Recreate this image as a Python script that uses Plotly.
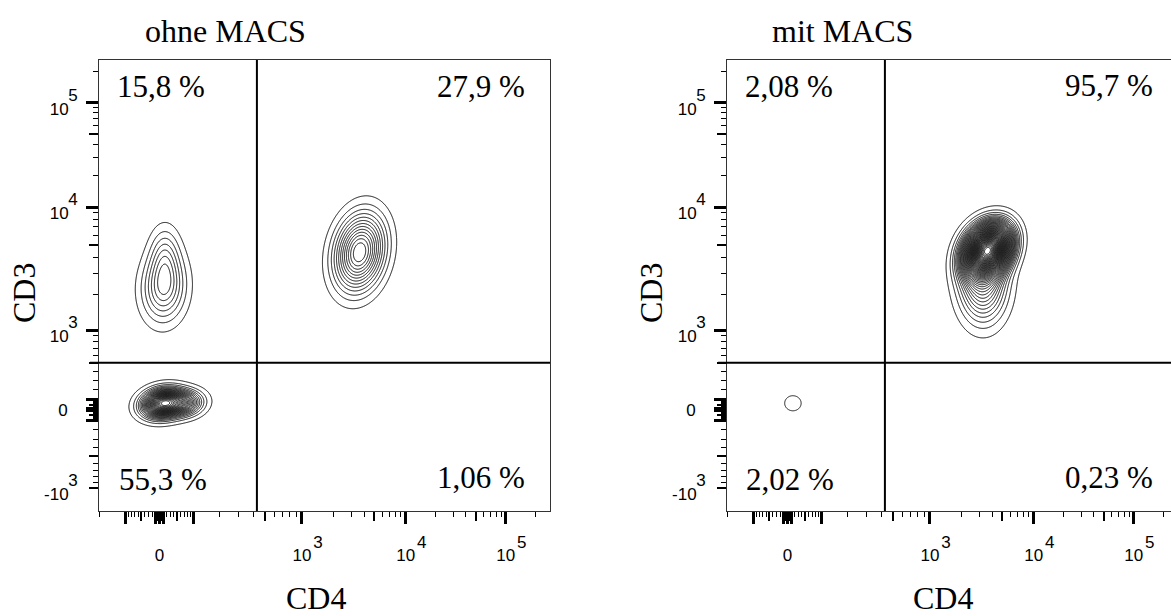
import numpy as np
import plotly.graph_objects as go

# ---------------- text ----------------
panel_titles = ["ohne MACS", "mit MACS"]
x_title = "CD4"
y_title = "CD3"
# quadrant percentages: upper-left, upper-right, lower-left, lower-right
quad_text_left = ["15,8 %", "27,9 %", "55,3 %", "1,06 %"]
quad_text_right = ["2,08 %", "95,7 %", "2,02 %", "0,23 %"]

# ---------------- gate (fluorescence units) ----------------
gate_cd4 = 430.0
gate_cd3 = 500.0

# ---------------- populations ----------------
# share of all events (%) of each visible population
pop_share_left = [15.8, 27.9, 55.3]
pop_share_right = [95.7, 2.02]

# components of each population: centre (fluorescence), spread (display channels), correlation, weight
comp_pop_left = [0, 0, 1, 2, 2]
comp_cd4_left = [12, 15, 3600, 10, 72]
comp_cd3_left = [2300, 4300, 4400, 65, 65]
comp_sdx_left = [32.0, 22.0, 35.5, 28.4, 26.0]
comp_sdy_left = [50.0, 42.0, 54.0, 19.5, 17.7]
comp_rho_left = [0.05, 0.0, 0.18, 0.15, 0.10]
comp_w_left = [0.78, 0.22, 1.0, 0.75, 0.25]

comp_pop_right = [0, 0, 1]
comp_cd4_right = [3630, 3250, 15]
comp_cd3_right = [4590, 2600, 65]
comp_sdx_right = [29.5, 33.0, 6.0]
comp_sdy_right = [33.0, 56.0, 5.5]
comp_rho_right = [0.25, 0.0, 0.0]
comp_w_right = [0.75, 0.25, 1.0]

contour_step_pct = 2.0  # equal-probability contour step

# ---------------- biexponential display scale ----------------
scale_decades = [-1e3, 0, 1e3, 1e4, 1e5, 1e6]
x_scale_width = 150.0
y_scale_width = 600.0
x_scale_channel = [-182, 134, 450, 680, 902, 1124]
y_scale_channel = [51, 224, 401, 674, 905, 1135]

# ---------------- ticks ----------------
major_ticks = [-1e3, -100, -10, 0, 10, 100, 1e3, 1e4, 1e5]
x_major_labels = ["-10", "", "", "0", "", "", "10", "10", "10"]
y_major_labels = ["", "", "", "0", "", "", "", "", ""]
decade_ticks = [-1e3, 1e3, 1e4, 1e5]
decade_base_labels = ["-10", "10", "10", "10"]
decade_exp_labels = ["3", "3", "4", "5"]
medium_ticks = [-5e3, -500, -50, -5, 5, 50, 500, 5e3, 5e4]
minor_mult = [2, 3, 4, 6, 7, 8, 9]
minor_decades = [1, 10, 100, 1e3, 1e4, 1e5]


def scale(v, width, channel):
    anchors = np.arcsinh(np.asarray(scale_decades, float) / width)
    return np.interp(np.arcsinh(np.asarray(v, float) / width), anchors,
                     np.asarray(channel, float))


minor_vals = [s * m * d for s in (-1, 1) for m in minor_mult for d in minor_decades]


def gauss2d(X, Y, mx, my, sx, sy, rho):
    dx = (X - mx) / sx
    dy = (Y - my) / sy
    q = (dx * dx - 2 * rho * dx * dy + dy * dy) / (1 - rho ** 2)
    return np.exp(-q / 2) / (2 * np.pi * sx * sy * np.sqrt(1 - rho ** 2))


def population_traces(share, cpop, cd4, cd3, sdx, sdy, rho, wts, xa, ya):
    traces = []
    cpop = np.asarray(cpop)
    for p, s in enumerate(share):
        idx = np.where(cpop == p)[0]
        mx = scale(np.asarray(cd4, float)[idx], x_scale_width, x_scale_channel)
        my = scale(np.asarray(cd3, float)[idx], y_scale_width, y_scale_channel)
        sx = np.asarray(sdx, float)[idx]
        sy = np.asarray(sdy, float)[idx]
        rr = np.asarray(rho, float)[idx]
        w = np.asarray(wts, float)[idx]
        w = w / w.sum()
        step = float(np.clip(min(sx.min(), sy.min()) / 8, 0.5, 1.5))
        xs = np.arange((mx - 5 * sx).min(), (mx + 5 * sx).max() + step, step)
        ys = np.arange((my - 5 * sy).min(), (my + 5 * sy).max() + step, step)
        X, Y = np.meshgrid(xs, ys)
        f = np.zeros_like(X)
        for k in range(len(idx)):
            f += w[k] * gauss2d(X, Y, mx[k], my[k], sx[k], sy[k], rr[k])
        flat = f.ravel()
        order = np.argsort(-flat)
        cum = np.cumsum(flat[order])
        cum /= cum[-1]
        z = np.empty_like(cum)
        z[order] = cum
        Z = z.reshape(f.shape)
        lev = contour_step_pct / s
        n = int(np.floor(1.0 / lev - 1e-9))
        if n < 1:
            continue
        traces.append(go.Contour(
            x=np.round(xs, 3), y=np.round(ys, 3), z=np.round(Z, 5),
            autocontour=False,
            contours=dict(start=lev, end=n * lev + lev * 1e-3, size=lev, coloring="none"),
            line=dict(color="#111111", width=1.0),
            showscale=False, hoverinfo="skip",
            xaxis=xa, yaxis=ya))
    return traces


fig = go.Figure()
for t in population_traces(pop_share_left, comp_pop_left, comp_cd4_left, comp_cd3_left,
                           comp_sdx_left, comp_sdy_left, comp_rho_left, comp_w_left, "x", "y"):
    fig.add_trace(t)
for t in population_traces(pop_share_right, comp_pop_right, comp_cd4_right, comp_cd3_right,
                           comp_sdx_right, comp_sdy_right, comp_rho_right, comp_w_right, "x2", "y2"):
    fig.add_trace(t)

# overlay axes: medium ticks and exponent / base labels
overlay_pairs = [("x3", "y"), ("x", "y3"), ("x4", "y2"), ("x2", "y4"),
                 ("x5", "y"), ("x", "y5"), ("x", "y7"),
                 ("x6", "y2"), ("x2", "y6"), ("x2", "y8")]
for xa, ya in overlay_pairs:
    fig.add_trace(go.Scatter(x=[None], y=[None], xaxis=xa, yaxis=ya, showlegend=False,
                             hoverinfo="skip"))

W, H = 1171, 616
box_left = [99, 727]
box_size = 451
box_top, box_bottom = 60, 511
y_dom = [1 - box_bottom / H, 1 - box_top / H]

x_major = scale(major_ticks, x_scale_width, x_scale_channel)
y_major = scale(major_ticks, y_scale_width, y_scale_channel)
x_minor = scale(minor_vals, x_scale_width, x_scale_channel)
y_minor = scale(minor_vals, y_scale_width, y_scale_channel)
x_med = scale(medium_ticks, x_scale_width, x_scale_channel)
y_med = scale(medium_ticks, y_scale_width, y_scale_channel)
x_dec = scale(decade_ticks, x_scale_width, x_scale_channel)
y_dec = scale(decade_ticks, y_scale_width, y_scale_channel)

tickfont = dict(family="Liberation Sans, Arial, sans-serif", size=17, color="black")


def main_axis(domain, rng, tv, tt, minor, anchor, mirror, standoff):
    return dict(domain=domain, range=rng, anchor=anchor, showgrid=False, zeroline=False,
                showline=True, linecolor="#333", linewidth=1, mirror=mirror,
                ticks="outside", ticklen=12, tickwidth=2.5, tickcolor="black",
                tickmode="array", tickvals=list(tv), ticktext=tt, tickfont=tickfont,
                ticklabelstandoff=standoff,
                minor=dict(tickmode="array", tickvals=list(minor), ticks="outside",
                           ticklen=5, tickwidth=1, tickcolor="black", showgrid=False),
                fixedrange=True)


def med_axis(over, anchor, rng, tv, side):
    return dict(overlaying=over, anchor=anchor, range=rng, side=side, showgrid=False,
                zeroline=False, showline=False, ticks="outside", ticklen=9, tickwidth=1.6,
                tickcolor="black", tickmode="array", tickvals=list(tv),
                showticklabels=False, fixedrange=True)


def label_axis(over, anchor, rng, tv, tt, side, standoff, shift):
    return dict(overlaying=over, anchor=anchor, range=rng, side=side, showgrid=False,
                zeroline=False, showline=False, ticks="outside", ticklen=12,
                tickcolor="rgba(0,0,0,0)", tickmode="array", tickvals=list(tv),
                ticktext=tt, tickfont=tickfont, ticklabelstandoff=standoff,
                ticklabelshift=shift, fixedrange=True)


xr_left = [0, 1000]
xr_right = [0, 1000 * (W - box_left[1]) / box_size]
yr = [0, 1000]

fig.update_layout(
    width=W, height=H, margin=dict(l=0, r=0, t=0, b=0),
    paper_bgcolor="white", plot_bgcolor="white", showlegend=False,
    xaxis=main_axis([box_left[0] / W, (box_left[0] + box_size) / W], xr_left,
                    x_major, x_major_labels, x_minor, "y", True, 17),
    yaxis=main_axis(y_dom, yr, y_major, y_major_labels, y_minor, "x", True, 15),
    xaxis2=main_axis([box_left[1] / W, 1.0], xr_right,
                     x_major, x_major_labels, x_minor, "y2", True, 17),
    yaxis2=main_axis(y_dom, yr, y_major, y_major_labels, y_minor, "x2", False, 15),
    xaxis3=med_axis("x", "y", xr_left, x_med, "bottom"),
    yaxis3=med_axis("y", "x", yr, y_med, "left"),
    xaxis4=med_axis("x2", "y2", xr_right, x_med, "bottom"),
    yaxis4=med_axis("y2", "x2", yr, y_med, "left"),
    xaxis5=label_axis("x", "y", xr_left, x_dec, decade_exp_labels, "bottom", 4, 16),
    xaxis6=label_axis("x2", "y2", xr_right, x_dec, decade_exp_labels, "bottom", 4, 16),
    yaxis5=label_axis("y", "x", yr, y_dec, decade_base_labels, "left", 14, 6),
    yaxis7=label_axis("y", "x", yr, y_dec, decade_exp_labels, "left", 5, -8),
    yaxis6=label_axis("y2", "x2", yr, y_dec, decade_base_labels, "left", 14, 6),
    yaxis8=label_axis("y2", "x2", yr, y_dec, decade_exp_labels, "left", 5, -8),
)

gx = float(scale(gate_cd4, x_scale_width, x_scale_channel))
gy = float(scale(gate_cd3, y_scale_width, y_scale_channel))
shapes = []
for xa, ya in [("x", "y"), ("x2", "y2")]:
    shapes.append(dict(type="line", xref=xa, yref=ya + " domain", x0=gx, x1=gx, y0=0, y1=1,
                       line=dict(color="black", width=2)))
    shapes.append(dict(type="line", xref=xa + " domain", yref=ya, x0=-0.02, x1=1, y0=gy, y1=gy,
                       line=dict(color="black", width=2)))
fig.update_layout(shapes=shapes)

serif = "Liberation Serif, Times New Roman, serif"
ann = []


def add_text(txt, px, py, xanchor="center", size=31, angle=0):
    ann.append(dict(text=txt, x=px / W, y=1 - py / H, xref="paper", yref="paper",
                    xanchor=xanchor, yanchor="middle", showarrow=False, textangle=angle,
                    font=dict(family=serif, size=size, color="black")))


add_text(panel_titles[0], 225, 31, size=32)
add_text(panel_titles[1], 842, 31, size=32)
add_text(x_title, 316, 598, size=32)
add_text(x_title, 943, 598, size=32)
add_text(y_title, 24, 293, size=32, angle=-90)
add_text(y_title, 651, 293, size=32, angle=-90)

pos_left = [(115, 86, "left"), (527, 86, "right"), (117, 479, "left"), (527, 477, "right")]
pos_right = [(743, 86, "left"), (1155, 85, "right"), (744, 479, "left"), (1155, 477, "right")]
for t, (px, py, a) in zip(quad_text_left, pos_left):
    add_text(t, px, py, xanchor=a)
for t, (px, py, a) in zip(quad_text_right, pos_right):
    add_text(t, px, py, xanchor=a)

fig.update_layout(annotations=ann)
fig.write_html("out.html")
